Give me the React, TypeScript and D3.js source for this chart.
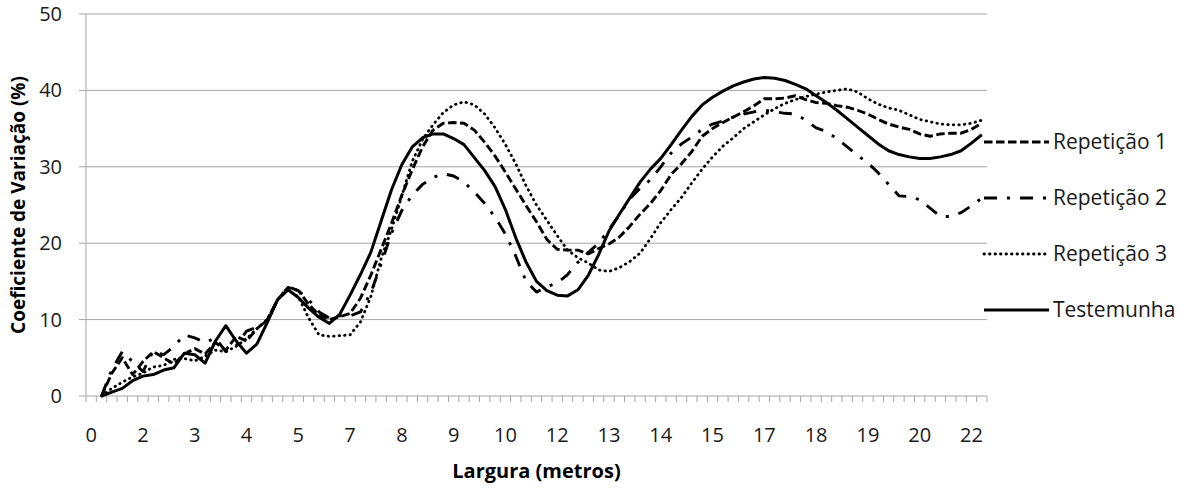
import * as d3 from 'd3';

// largura (m) de cada ponto do eixo de categorias
const larguras = [
    0.25, 0.5, 0.75, 1, 1.25, 1.5, 1.75, 2, 2.25, 2.5, 2.75, 3, 3.25, 3.5, 3.75, 4,
    4.25, 4.5, 4.75, 5, 5.25, 5.5, 5.75, 6, 6.25, 6.5, 6.75, 7, 7.25, 7.5, 7.75, 8,
    8.25, 8.5, 8.75, 9, 9.25, 9.5, 9.75, 10, 10.25, 10.5, 10.75, 11, 11.25, 11.5, 11.75, 12,
    12.25, 12.5, 12.75, 13, 13.25, 13.5, 13.75, 14, 14.25, 14.5, 14.75, 15, 15.25, 15.5, 15.75, 16,
    16.25, 16.5, 16.75, 17, 17.25, 17.5, 17.75, 18, 18.25, 18.5, 18.75, 19, 19.25, 19.5, 19.75, 20,
    20.25, 20.5, 20.75, 21, 21.25, 21.5, 21.75,
];

const repeticao1 = [
    null, 0, 3.0, 5.0, 2.8, 4.5, 5.8, 5.0, 4.2, 5.5, 6.2, 5.5, 7.0, 6.0, 7.8, 7.2,
    8.8, 10.0, 12.6, 14.2, 13.8, 12.0, 10.6, 10.0, 10.4, 10.8, 12.8, 15.8, 19.2, 22.6, 26.3, 29.6,
    32.6, 34.8, 35.7, 35.8, 35.7, 34.8, 33.2, 31.4, 29.3, 27.1, 24.9, 22.8, 20.5, 19.2, 19.1, 19.1,
    18.6, 19.3, 19.9, 20.8, 22.2, 23.8, 25.2, 26.9, 29.0, 30.4, 32.0, 34.0, 35.0, 35.8, 36.5, 37.2,
    38.0, 38.9, 38.9, 39.0, 39.3, 38.8, 38.4, 38.3, 38.0, 37.8, 37.4, 36.9, 36.2, 35.6, 35.2, 34.9,
    34.3, 34.0, 34.3, 34.4, 34.4, 34.9, 35.7,
];

const repeticao2 = [
    null, 0, 3.5, 5.8, 4.5, 3.2, 5.9, 5.4, 6.5, 8.0, 7.6, 7.0, 7.6, 5.8, 6.6, 8.5,
    9.0, 9.8, 12.6, 14.3, 13.8, 12.6, 11.0, 10.2, 10.5, 10.5, 11.0, 13.5, 17.3, 21.3, 24.3, 26.3,
    27.7, 28.6, 29.1, 28.8, 28.0, 26.7, 25.2, 23.4, 21.2, 18.3, 15.0, 13.6, 14.3, 14.8, 15.9, 17.5,
    18.8, 20.0, 21.8, 23.7, 25.8, 27.2, 28.3, 30.0, 31.8, 33.0, 33.9, 34.9, 35.6, 36.0, 36.5, 36.9,
    37.2, 37.4, 37.2, 37.0, 36.9, 36.1, 35.1, 34.6, 33.7, 32.6, 31.5, 30.5, 29.2, 27.7, 26.2, 26.1,
    25.7, 24.6, 23.5, 23.5, 24.0, 24.9, 25.9,
];

const repeticao3 = [
    null, 0, 1.0, 1.8, 2.5, 3.0, 3.8, 4.0, 4.8, 4.9, 4.6, 5.2, 6.0, 5.8, 6.5, 7.5,
    8.8, 10.0, 12.6, 13.9, 13.0, 10.2, 8.0, 7.8, 7.9, 8.0, 9.7, 13.0, 18.0, 21.8, 26.2, 30.7,
    33.6, 35.5, 37.1, 38.1, 38.5, 38.1, 36.9, 35.1, 32.9, 30.4, 27.5, 25.0, 23.0, 21.0, 19.1, 18.1,
    17.4, 16.5, 16.3, 16.8, 17.6, 18.7, 20.6, 22.7, 24.4, 26.0, 27.9, 29.7, 31.3, 32.7, 33.8, 35.0,
    35.9, 36.8, 37.6, 38.3, 38.8, 39.2, 39.5, 39.8, 40.0, 40.2, 39.8, 38.9, 38.2, 37.7, 37.4, 36.8,
    36.2, 35.9, 35.6, 35.5, 35.5, 35.7, 36.1,
];

const testemunha = [
    null, 0, 0.5, 1.0, 2.0, 2.6, 2.8, 3.4, 3.7, 5.6, 5.4, 4.3, 7.2, 9.2, 7.2, 5.6,
    6.8, 9.6, 12.6, 13.9, 12.9, 11.5, 10.3, 9.5, 10.7, 13.2, 15.9, 18.8, 22.9, 27.0, 30.3, 32.6,
    33.8, 34.3, 34.3, 33.7, 32.9, 31.2, 29.5, 27.4, 24.4, 20.7, 17.5, 15.0, 13.8, 13.2, 13.1, 13.9,
    15.8, 18.5, 21.6, 23.8, 25.9, 28.0, 29.7, 31.1, 32.9, 34.8, 36.6, 38.1, 39.1, 39.9, 40.6, 41.1,
    41.5, 41.7, 41.6, 41.3, 40.8, 40.2, 39.3, 38.4, 37.4, 36.3, 35.2, 34.1, 33.0, 32.1, 31.6, 31.3,
    31.1, 31.1, 31.3, 31.6, 32.1, 33.1, 34.2,
];

const seriesNames = ['Repetição 1', 'Repetição 2', 'Repetição 3', 'Testemunha'];
const yTicks = [0, 10, 20, 30, 40, 50];

const FONT = '"Open Sans", "DejaVu Sans", sans-serif';

export default function App() {
    const width = 1195;
    const height = 488;
    const left = 86;
    const right = 987;
    const top = 14;
    const bottom = 396;

    const idx = d3.range(larguras.length);
    const x = d3.scaleBand<number>().domain(idx).range([left, right]).padding(0);
    const cx = (i: number) => (x(i) as number) + x.bandwidth() / 2;
    const y = d3.scaleLinear().domain([0, 50]).range([bottom, top]);

    const line = d3.line<number | null>()
        .defined((d) => d != null)
        .x((_, i) => cx(i))
        .y((d) => y(d as number));

    const styles = [
        { values: repeticao1, dash: '8.5,3.5', cap: 'butt', w: 2.9 },
        { values: repeticao2, dash: '13,10,3,10', cap: 'butt', w: 2.9 },
        { values: repeticao3, dash: '0.5,5', cap: 'round', w: 2.8 },
        { values: testemunha, dash: null, cap: 'butt', w: 3 },
    ];

    // tick marks sit on category boundaries, labels on every 5th category
    const boundaries = d3.range(larguras.length + 1).map((k) => left + k * x.bandwidth());
    const labelled = idx.filter((i) => i % 5 === 0);

    return (
        <svg
            width={width}
            height={height}
            style={{ position: 'absolute', left: 0, top: 0, background: '#fff' }}
            fontFamily={FONT}
        >
            {/* gridlines */}
            {yTicks.map((t) => (
                <line key={t} x1={left - 7} x2={right} y1={y(t)} y2={y(t)} stroke="#a6a6a6" strokeWidth={1} />
            ))}
            <line x1={left} x2={left} y1={top} y2={bottom} stroke="#a6a6a6" strokeWidth={1} />
            {boundaries.map((bx, k) => (
                <line key={k} x1={bx} x2={bx} y1={bottom} y2={bottom + 6} stroke="#a6a6a6" strokeWidth={1} />
            ))}

            {/* y labels */}
            {yTicks.map((t) => (
                <text key={t} x={62} y={y(t)} dy="0.35em" textAnchor="end" fontSize={20} fill="#1a1a1a">
                    {t}
                </text>
            ))}

            {/* x labels */}
            {labelled.map((i) => (
                <text key={i} x={cx(i)} y={435} dy="0.35em" textAnchor="middle" fontSize={20} fill="#1a1a1a">
                    {Math.round(larguras[i])}
                </text>
            ))}

            {/* series */}
            {styles.map((s, k) => (
                <path
                    key={k}
                    d={line(s.values) || ''}
                    fill="none"
                    stroke="#000"
                    strokeWidth={s.w}
                    strokeDasharray={s.dash || undefined}
                    strokeLinecap={s.cap as any}
                    strokeLinejoin="round"
                />
            ))}

            {/* legend */}
            {seriesNames.map((name, k) => {
                const ly = 142 + k * 56;
                const s = styles[k];
                return (
                    <g key={name}>
                        <line
                            x1={984}
                            x2={1049}
                            y1={ly}
                            y2={ly}
                            stroke="#000"
                            strokeWidth={s.w}
                            strokeDasharray={s.dash || undefined}
                            strokeLinecap={s.cap as any}
                        />
                        <text x={1053} y={ly} dy="0.35em" fontSize={21} fill="#1a1a1a">
                            {name}
                        </text>
                    </g>
                );
            })}

            {/* axis titles */}
            <text x={(left + right) / 2} y={471} dy="0.35em" textAnchor="middle" fontSize={20} fontWeight="bold" fill="#000">
                Largura (metros)
            </text>
            <text
                transform={`translate(18, ${(top + bottom) / 2}) rotate(-90)`}
                dy="0.35em"
                textAnchor="middle"
                fontSize={19}
                fontWeight="bold"
                fill="#000"
            >
                Coeficiente de Variação (%)
            </text>
        </svg>
    );
}
